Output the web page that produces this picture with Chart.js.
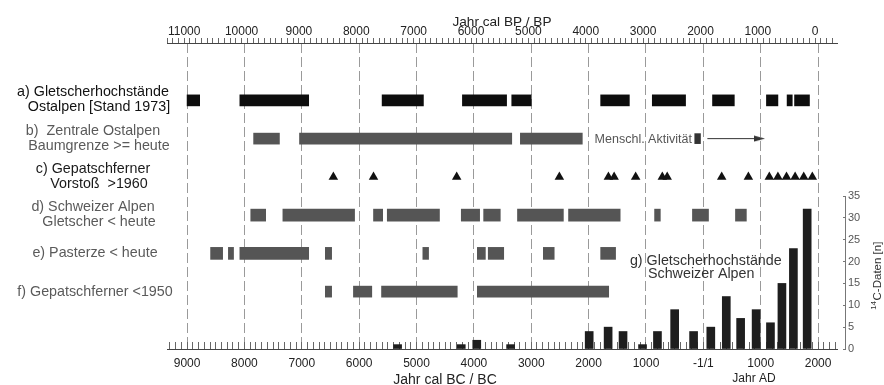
<!DOCTYPE html>
<html>
<head>
<meta charset="utf-8">
<script src="https://cdn.jsdelivr.net/npm/chart.js@4.4.1/dist/chart.umd.min.js"></script>
<style>
  html, body { margin: 0; padding: 0; background: #fff; }
  #wrap { width: 884px; height: 385px; position: relative; }
</style>
</head>
<body>
<div id="wrap"><canvas id="chart"></canvas></div>
<script>
// years on one axis: negative = BC, positive = AD, 0 = "-1/1"
const rowLabels = [
    ['a) Gletscherhochstände', 'Ostalpen [Stand 1973]'],
    ['b)  Zentrale Ostalpen', 'Baumgrenze >= heute'],
    ['c) Gepatschferner', 'Vorstoß  >1960'],
    ['d) Schweizer Alpen', 'Gletscher < heute'],
    ['e) Pasterze < heute'],
    ['f) Gepatschferner <1950']
];

// a) Gletscherhochstände Ostalpen
const rowA = [[-9000, -8780], [-8080, -6880], [-5600, -4880], [-4200, -3430], [-3340, -3000],
    [-1790, -1290], [-890, -310], [160, 540], [1100, 1300], [1460, 1550], [1590, 1850]];
// b) Baumgrenze >= heute
const rowB = [[-7840, -7390], [-7040, -3340], [-3190, -2110]];
const humanActivity = [[-150, -50]];
const humanArrow = [70, 980];
// c) Gepatschferner Vorstoß
const advances = [-6450, -5750, -4300, -2510, -1655, -1555, -1180, -715, -630, 320, 785,
    1150, 1300, 1450, 1600, 1750, 1900];
// d) Schweizer Alpen
const rowD = [[-7890, -7630], [-7330, -6080], [-5750, -5590], [-5510, -4600], [-4220, -3900],
    [-3830, -3540], [-3240, -2440], [-2350, -1450], [-850, -750], [-190, 90], [560, 750]];
// e) Pasterze
const rowE = [[-8590, -8380], [-8280, -8190], [-8080, -6880], [-6590, -6480], [-4890, -4790],
    [-3940, -3800], [-3750, -3480], [-2790, -2600], [-1790, -1530]];
// f) Gepatschferner <1950
const rowF = [[-6590, -6480], [-6100, -5780], [-5610, -4290], [-3940, -1650]];

// g) 14C dates, Schweizer Alpen
const histYears = [-5330, -4220, -3950, -3360, -1990, -1660, -1400, -1060, -800, -500, -170,
    130, 400, 650, 920, 1170, 1370, 1570, 1810];
const histCounts = [1, 1, 2, 1, 4, 5, 4, 1, 4, 9, 4, 5, 12, 7, 9, 6, 15, 23, 32];

const FONT = '"Liberation Sans", Arial, Helvetica, sans-serif';
Chart.defaults.font.family = FONT;
Chart.defaults.color = '#222';

function yearLabel(v) {
    if (v % 1000 !== 0 || v < -9000 || v > 2000) return '';
    if (v === 0) return '-1/1';
    return String(Math.abs(v));
}

function bpLabel(v) {
    if (v % 1000 !== 0 || v < 0 || v > 11000) return '';
    return String(v);
}

function rowBars(label, spans, row, color, thick) {
    return {
        type: 'bar',
        label: label,
        indexAxis: 'y',
        xAxisID: 'x',
        yAxisID: 'yr',
        grouped: false,
        barPercentage: 1,
        categoryPercentage: 1,
        maxBarThickness: thick,
        backgroundColor: color,
        borderWidth: 0,
        data: spans.map(s => ({ x: s, y: row }))
    };
}

// small arrow head for the "Menschl. Aktivität" line
const arrowHead = document.createElement('canvas');
arrowHead.width = 11;
arrowHead.height = 7;
(function () {
    const c = arrowHead.getContext('2d');
    c.fillStyle = '#333';
    c.beginPath();
    c.moveTo(0, 0.5);
    c.lineTo(11, 3.5);
    c.lineTo(0, 6.5);
    c.closePath();
    c.fill();
})();

const labelColors = ['#111', '#5a5a5a', '#1a1a1a', '#5a5a5a', '#5a5a5a', '#5a5a5a'];

const textPlugin = {
    id: 'texts',
    afterDraw(chart) {
        const { ctx, chartArea, scales } = chart;
        const x = scales.x, yr = scales.yr, y = scales.y;
        ctx.save();
        ctx.textBaseline = 'middle';

        // row titles on the left
        ctx.font = '14.3px ' + FONT;
        ctx.textAlign = 'center';
        rowLabels.forEach((lines, i) => {
            const py = yr.getPixelForValue(i + 1);
            ctx.fillStyle = labelColors[i];
            if (lines.length === 1) {
                ctx.fillText(lines[0], 95, py);
            } else {
                ctx.fillText(lines[0], 93, py - 8);
                ctx.fillText(lines[1], 99, py + 7);
            }
        });

        // Menschl. Aktivität
        ctx.font = '12.5px ' + FONT;
        ctx.fillStyle = '#555';
        ctx.textAlign = 'right';
        ctx.fillText('Menschl. Aktivität', x.getPixelForValue(-200), yr.getPixelForValue(2) + 1);

        // g) label
        ctx.font = '14.3px ' + FONT;
        ctx.fillStyle = '#333';
        ctx.textAlign = 'left';
        ctx.fillText('g) Gletscherhochstände', x.getPixelForValue(-1280), y.getPixelForValue(20.2));
        ctx.fillText('Schweizer Alpen', x.getPixelForValue(-965), y.getPixelForValue(17.2));

        // axis titles
        ctx.fillStyle = '#222';
        ctx.textAlign = 'center';
        ctx.font = '13.6px ' + FONT;
        ctx.fillText('Jahr cal BP / BP', (chartArea.left + chartArea.right) / 2, 22);
        ctx.font = '14px ' + FONT;
        ctx.fillText('Jahr cal BC / BC', 445, 380);
        ctx.font = '12px ' + FONT;
        ctx.fillText('Jahr AD', 754, 379);

        // right axis line (0..35 only)
        const ax = chartArea.right + 8.5;
        ctx.strokeStyle = '#777';
        ctx.lineWidth = 1;
        ctx.beginPath();
        ctx.moveTo(ax, y.getPixelForValue(0));
        ctx.lineTo(ax, y.getPixelForValue(35));
        ctx.stroke();

        // rotated right title with superscript 14
        ctx.translate(878, 276);
        ctx.rotate(-Math.PI / 2);
        ctx.fillStyle = '#333';
        ctx.font = '8px ' + FONT;
        const w14 = ctx.measureText('14').width;
        ctx.font = '11.5px ' + FONT;
        const wMain = ctx.measureText('C-Daten [n]').width;
        const start = -(w14 + wMain) / 2;
        ctx.textAlign = 'left';
        ctx.font = '8px ' + FONT;
        ctx.fillText('14', start, -4);
        ctx.font = '11.5px ' + FONT;
        ctx.fillText('C-Daten [n]', start + w14 + 0.5, 0);
        ctx.restore();
    }
};

new Chart(document.getElementById('chart'), {
    type: 'bar',
    data: {
        datasets: [
            {
                type: 'line',
                label: 'Menschl. Aktivität',
                xAxisID: 'x',
                yAxisID: 'yr',
                data: humanArrow.map(v => ({ x: v, y: 2 })),
                borderColor: '#333',
                borderWidth: 1,
                fill: false,
                pointStyle: [false, arrowHead],
                pointRadius: [0, 6]
            },
            {
                type: 'scatter',
                label: 'c) Gepatschferner Vorstoß',
                xAxisID: 'x',
                yAxisID: 'yr',
                data: advances.map(v => ({ x: v, y: 3 })),
                pointStyle: 'triangle',
                pointRadius: 5.5,
                backgroundColor: '#111',
                borderColor: '#111',
                borderWidth: 0
            },
            rowBars('a', rowA, 1, '#0d0d0d', 11),
            rowBars('b', rowB, 2, '#555', 11),
            rowBars('b2', humanActivity, 2, '#333', 10),
            rowBars('d', rowD, 4, '#555', 12),
            rowBars('e', rowE, 5, '#555', 12),
            rowBars('f', rowF, 6, '#555', 11),
            {
                type: 'bar',
                label: 'g) Gletscherhochstände Schweizer Alpen',
                xAxisID: 'x',
                yAxisID: 'y',
                barThickness: 8,
                backgroundColor: '#1e1e1e',
                borderWidth: 0,
                data: histYears.map((v, i) => ({ x: v, y: histCounts[i] }))
            }
        ]
    },
    options: {
        responsive: true,
        maintainAspectRatio: false,
        animation: false,
        events: [],
        layout: { padding: { left: 167, right: 0, top: 0, bottom: 0 } },
        plugins: { legend: { display: false }, tooltip: { enabled: false } },
        scales: {
            x: {
                type: 'linear',
                position: 'bottom',
                min: -9350,
                max: 2330,
                offset: false,
                stacked: false,
                afterFit: s => { s.height = 36; },
                ticks: {
                    stepSize: 100,
                    autoSkip: false,
                    includeBounds: false,
                    maxRotation: 0,
                    padding: 14,
                    font: { size: 12 },
                    color: '#222',
                    callback: v => yearLabel(v)
                },
                grid: {
                    offset: false,
                    tickLength: -7,
                    lineWidth: 1,
                    color: c => (c.tick && c.tick.value % 1000 === 0) ? '#9a9a9a' : 'rgba(0,0,0,0)',
                    tickColor: '#666'
                },
                border: { display: true, color: '#444', width: 1, dash: [10, 4] }
            },
            xTop: {
                type: 'linear',
                position: 'top',
                reverse: true,
                min: -380,
                max: 11300,
                offset: false,
                afterFit: s => { s.height = 43; },
                ticks: {
                    stepSize: 100,
                    autoSkip: false,
                    includeBounds: false,
                    maxRotation: 0,
                    padding: -1,
                    font: { size: 12 },
                    color: '#222',
                    callback: v => bpLabel(v)
                },
                grid: { offset: false, drawOnChartArea: false, tickLength: 5, tickColor: '#666' },
                border: { display: true, color: '#444', width: 1 }
            },
            y: {
                type: 'linear',
                position: 'right',
                min: 0,
                max: 70,
                afterFit: s => { s.width = 47; },
                afterBuildTicks: s => { s.ticks = s.ticks.filter(t => t.value <= 35); },
                ticks: { stepSize: 5, padding: 2, font: { size: 11 }, color: '#555' },
                grid: {
                    drawOnChartArea: false,
                    tickLength: 9,
                    tickColor: '#777',
                    tickBorderDash: [0, 6, 3, 40]
                },
                border: { display: false }
            },
            yr: {
                type: 'linear',
                position: 'left',
                display: false,
                reverse: true,
                min: 0,
                max: 7,
                ticks: { stepSize: 1 }
            }
        }
    },
    plugins: [textPlugin]
});
</script>
</body>
</html>
